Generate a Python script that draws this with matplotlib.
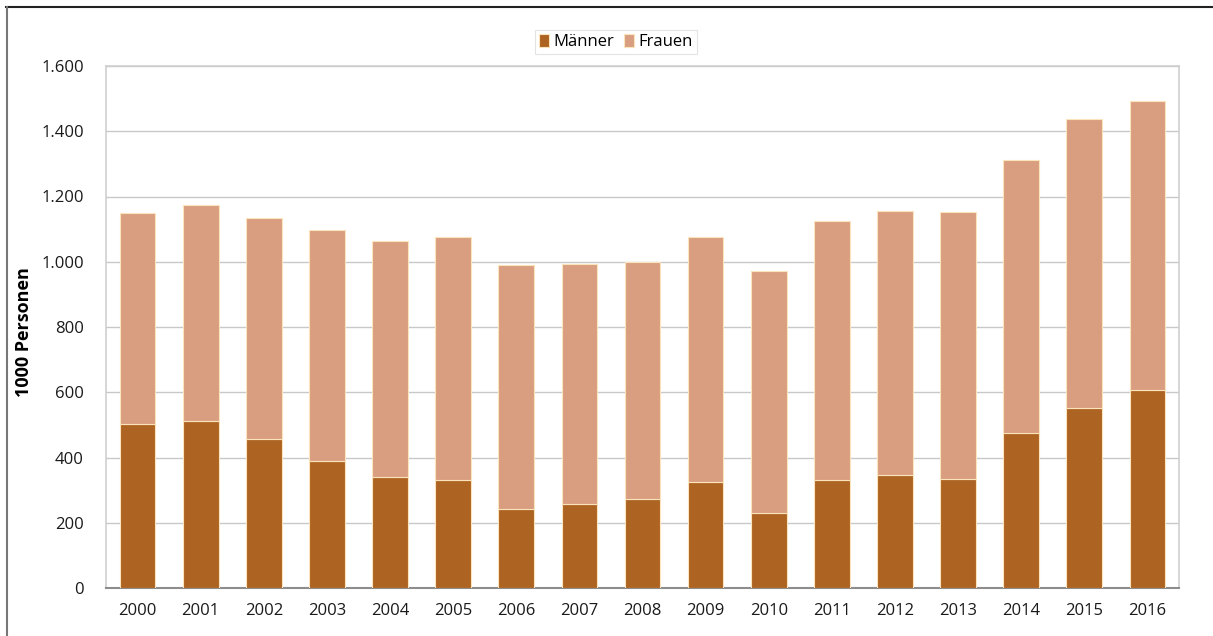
import matplotlib.pyplot as plt
import numpy as np
from matplotlib.lines import Line2D

years = ["2000", "2001", "2002", "2003", "2004", "2005", "2006", "2007", "2008",
         "2009", "2010", "2011", "2012", "2013", "2014", "2015", "2016"]
gesamt = [1149, 1174, 1134, 1097, 1064, 1076, 990, 993, 999,
          1076, 972, 1125, 1156, 1152, 1312, 1438, 1493]
maenner = [504, 513, 456, 390, 341, 331, 242, 257, 273,
           326, 229, 331, 347, 333, 474, 553, 607]
frauen = [g - m for g, m in zip(gesamt, maenner)]

plt.rcParams['font.family'] = ['Open Sans', 'DejaVu Sans']

fig = plt.figure(figsize=(12.13, 6.36), dpi=100)
ax = fig.add_axes([106 / 1213, 1 - 588 / 636, (1179 - 106) / 1213, (588 - 66) / 636])

x = np.arange(len(years))
w = 0.565
ax.bar(x, maenner, w, color="#AD6321", edgecolor="#FBE3BC", linewidth=0.8, label="Männer", zorder=3)
ax.bar(x, frauen, w, bottom=maenner, color="#D99E7F", edgecolor="#FBE3BC", linewidth=0.8, label="Frauen", zorder=3)

ax.set_xlim(-0.5, len(years) - 0.5)
ax.set_ylim(0, 1600)
ax.set_yticks(range(0, 1601, 200))
ax.set_yticklabels([f"{v:,}".replace(",", ".") for v in range(0, 1601, 200)])
ax.set_xticks(x)
ax.set_xticklabels(years)
ax.tick_params(axis="both", length=0, labelsize=12, colors="#1a1a1a")
ax.tick_params(axis="y", pad=16)
ax.tick_params(axis="x", pad=11)
ax.yaxis.grid(True, color="#C8C8C8", linewidth=1.0, zorder=0)

for s in ["top", "right", "left"]:
    ax.spines[s].set_color("#CFCFCF")
    ax.spines[s].set_linewidth(1.2)
ax.spines["bottom"].set_color("#8C8C8C")
ax.spines["bottom"].set_linewidth(1.5)

ax.set_ylabel("1000 Personen", fontsize=13, fontweight="bold")
ax.yaxis.set_label_coords(-0.068, 0.49)

leg = fig.legend(loc="center", bbox_to_anchor=(616 / 1213, 1 - 42 / 636), ncol=2,
                 fontsize=12, frameon=True, fancybox=False, handlelength=0.6,
                 handleheight=0.8, handletextpad=0.25, columnspacing=0.6,
                 borderpad=0.25, borderaxespad=0)
leg.get_frame().set_edgecolor("#DDDDDD")
leg.get_frame().set_linewidth(0.8)

# outer frame of the graphic
fig.add_artist(Line2D([6 / 1213, 1], [1 - 7 / 636, 1 - 7 / 636], color="#222222", linewidth=1.5))
fig.add_artist(Line2D([7 / 1213, 7 / 1213], [0, 1 - 7 / 636], color="#777777", linewidth=1.5))

plt.savefig("out.png", dpi=100)
